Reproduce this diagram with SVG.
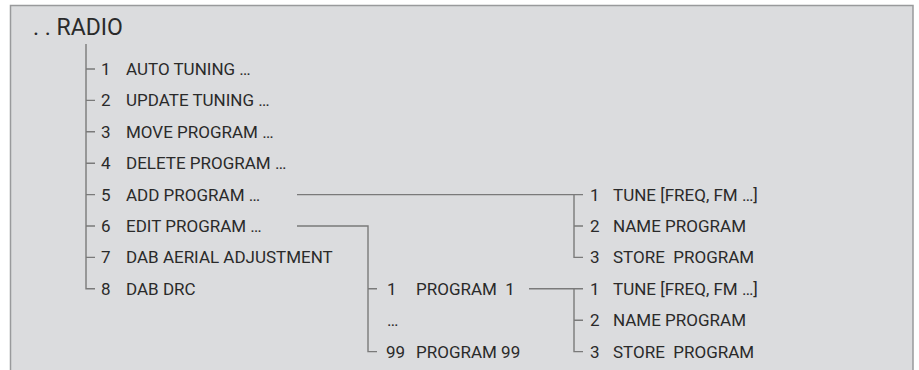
<svg xmlns="http://www.w3.org/2000/svg" width="919" height="370" viewBox="0 0 919 370">
<style>
.t{font-family:Roboto,"Liberation Sans",sans-serif;font-size:17px;fill:#2a2a2a}
.h{font-family:Roboto,"Liberation Sans",sans-serif;font-size:23px;fill:#2a2a2a}
.c{fill:none;stroke:#7a7a7a;stroke-width:1.4}
</style>
<rect x="0" y="0" width="919" height="370" fill="#ffffff"/>
<rect x="10.5" y="5.5" width="902.5" height="380" fill="#dbdcde" stroke="#999a9c" stroke-width="1.5"/>
<g id="connectors" class="c">
<path d="M86 44V288.8H95"/>
<path d="M86 69H95M86 100.4H95M86 131.8H95M86 163.2H95M86 194.6H95M86 226H95M86 257.4H95"/>
<path d="M297 194.6H583M574 194.6V257.4H583M574 226H583"/>
<path d="M297 226H368V351.6H377M368 288.8H377"/>
<path d="M529 288.8H583M574 288.8V351.6H583M574 320.2H583"/>
</g>
<g id="radio"><text class="h" x="33" y="35">. . RADIO</text></g>
<g id="m1"><text class="t" x="101" y="75">1</text><text class="t" x="126" y="75">AUTO TUNING …</text></g>
<g id="m2"><text class="t" x="101" y="106.4">2</text><text class="t" x="126" y="106.4">UPDATE TUNING …</text></g>
<g id="m3"><text class="t" x="101" y="137.8">3</text><text class="t" x="126" y="137.8">MOVE PROGRAM …</text></g>
<g id="m4"><text class="t" x="101" y="169.2">4</text><text class="t" x="126" y="169.2">DELETE PROGRAM …</text></g>
<g id="m5"><text class="t" x="101" y="200.6">5</text><text class="t" x="126" y="200.6">ADD PROGRAM …</text></g>
<g id="m6"><text class="t" x="101" y="232">6</text><text class="t" x="126" y="232">EDIT PROGRAM …</text></g>
<g id="m7"><text class="t" x="101" y="263.4">7</text><text class="t" x="126" y="263.4">DAB AERIAL ADJUSTMENT</text></g>
<g id="m8"><text class="t" x="101" y="294.8">8</text><text class="t" x="126" y="294.8">DAB DRC</text></g>
<g id="a1"><text class="t" x="590" y="200.6">1</text><text class="t" x="613" y="200.6">TUNE [FREQ, FM …]</text></g>
<g id="a2"><text class="t" x="590" y="232">2</text><text class="t" x="613" y="232">NAME PROGRAM</text></g>
<g id="a3"><text class="t" x="590" y="263.4">3</text><text class="t" x="613" y="263.4" xml:space="preserve">STORE  PROGRAM</text></g>
<g id="p1"><text class="t" x="387" y="294.8">1</text><text class="t" x="416" y="294.8" xml:space="preserve">PROGRAM  1</text></g>
<g id="pdots"><text class="t" x="387" y="326.2">…</text></g>
<g id="p99"><text class="t" x="386" y="357.6">99</text><text class="t" x="416" y="357.6">PROGRAM 99</text></g>
<g id="b1"><text class="t" x="590" y="294.8">1</text><text class="t" x="613" y="294.8">TUNE [FREQ, FM …]</text></g>
<g id="b2"><text class="t" x="590" y="326.2">2</text><text class="t" x="613" y="326.2">NAME PROGRAM</text></g>
<g id="b3"><text class="t" x="590" y="357.6">3</text><text class="t" x="613" y="357.6" xml:space="preserve">STORE  PROGRAM</text></g>
</svg>
